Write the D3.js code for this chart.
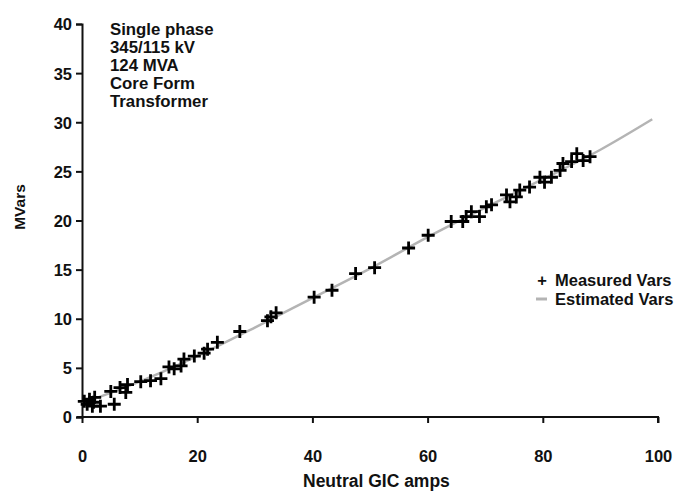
<!DOCTYPE html>
<html>
<head>
    <title>MVars vs Neutral GIC</title>
    <script src="https://d3js.org/d3.v7.min.js"></script>
    <style>
        body {
            margin: 0;
            background: #fff;
        }
        svg text {
            font-family: "Liberation Sans", Arial, sans-serif;
            font-weight: bold;
            fill: #111;
        }
        .axis path,
        .axis line {
            fill: none;
            stroke: #111;
            stroke-width: 2px;
        }
        .axis text {
            font-size: 16.5px;
        }
        .marker {
            fill: none;
            stroke: #000;
            stroke-width: 2.8px;
        }
    </style>
</head>
<body>
<div id="chart"></div>
<script>
// measured points: neutral GIC amps vs MVars
const measuredAmps = [0.4, 0.9, 1.3, 1.8, 2.2, 2.0, 3.2, 5.0, 5.6, 6.6, 7.6, 7.9,
    10.2, 11.9, 13.7, 15.1, 16.0, 17.2, 17.7, 19.5, 21.2, 21.8, 23.5, 27.4,
    32.2, 32.8, 33.7, 40.3, 43.4, 47.5, 50.8, 56.7, 60.1,
    64.1, 66.1, 66.7, 67.6, 69.0, 70.2, 71.1, 73.7, 74.3, 75.4, 76.0, 77.7,
    79.5, 80.3, 81.5, 83.0, 83.5, 85.0, 85.9, 87.0, 88.2];
const measuredVars = [1.6, 1.3, 1.8, 1.1, 2.0, 1.5, 1.1, 2.6, 1.3, 3.0, 2.5, 3.3,
    3.6, 3.7, 3.9, 5.1, 4.9, 5.2, 5.9, 6.2, 6.5, 6.9, 7.6, 8.7,
    9.8, 10.2, 10.6, 12.2, 12.9, 14.6, 15.2, 17.2, 18.5,
    19.9, 19.9, 20.4, 20.9, 20.4, 21.4, 21.6, 22.6, 21.9, 22.4, 23.1, 23.4,
    24.4, 23.9, 24.4, 25.1, 25.8, 26.0, 26.8, 26.1, 26.5];

// estimated curve
const estimatedAmps = [0, 10, 20, 30, 40, 50, 60, 70, 80, 90, 99];
const estimatedVars = [1.4, 3.6, 6.2, 9.1, 12.1, 15.1, 18.3, 21.3, 24.2, 27.2, 30.3];

const xTicks = [0, 20, 40, 60, 80, 100];
const yTicks = [0, 5, 10, 15, 20, 25, 30, 35, 40];
const noteLines = ['Single phase', '345/115 kV', '124 MVA', 'Core Form', 'Transformer'];

const width = 679;
const height = 492;

const svg = d3.select('#chart').append('svg')
    .attr('width', width)
    .attr('height', height);

const xScale = d3.scaleLinear().domain([0, 100]).range([82, 658]);
const yScale = d3.scaleLinear().domain([0, 40]).range([417, 24]);

// axes
const xAxisG = svg.append('g')
    .attr('class', 'axis')
    .attr('transform', `translate(0,${yScale(0)})`)
    .call(d3.axisBottom(xScale).tickValues(xTicks).tickSize(6).tickPadding(27));
xAxisG.select('.domain').attr('d', `M${xScale(0) - 5},0H${xScale(100)}V6`);

const yAxisG = svg.append('g')
    .attr('class', 'axis')
    .attr('transform', `translate(${xScale(0)},0)`)
    .call(d3.axisLeft(yScale).tickValues(yTicks).tickSize(6).tickPadding(4));
yAxisG.selectAll('text').attr('dy', '0.36em');

svg.append('text')
    .attr('x', 303)
    .attr('y', 487)
    .style('font-size', '17.5px')
    .text('Neutral GIC amps');

svg.append('text')
    .attr('transform', 'rotate(-90)')
    .attr('x', -207)
    .attr('y', 25)
    .attr('text-anchor', 'middle')
    .style('font-size', '15.5px')
    .text('MVars');

// estimated line
const line = d3.line()
    .x(d => xScale(d[0]))
    .y(d => yScale(d[1]))
    .curve(d3.curveMonotoneX);

svg.append('path')
    .datum(estimatedAmps.map((a, i) => [a, estimatedVars[i]]))
    .attr('d', line)
    .attr('fill', 'none')
    .attr('stroke', '#b4b4b4')
    .attr('stroke-width', 2.5);

// measured crosses
svg.selectAll('.marker')
    .data(measuredAmps.map((a, i) => [a, measuredVars[i]]))
    .enter().append('path')
    .attr('class', 'marker')
    .attr('transform', d => `translate(${xScale(d[0])},${yScale(d[1])})`)
    .attr('d', 'M-6.5,0H6.5M0,-6.5V6.5');

// note text
svg.append('g').selectAll('text')
    .data(noteLines)
    .enter().append('text')
    .attr('x', 110)
    .attr('y', (d, i) => 35 + i * 18.1)
    .style('font-size', '16.8px')
    .text(d => d);

// legend
const legend = svg.append('g');
legend.append('text')
    .attr('x', 542)
    .attr('y', 286)
    .attr('text-anchor', 'middle')
    .style('font-size', '16.5px')
    .text('+');
legend.append('text')
    .attr('x', 555)
    .attr('y', 286)
    .style('font-size', '16.5px')
    .text('Measured Vars');
legend.append('line')
    .attr('x1', 536).attr('x2', 547)
    .attr('y1', 299).attr('y2', 299)
    .attr('stroke', '#b4b4b4')
    .attr('stroke-width', 3);
legend.append('text')
    .attr('x', 555)
    .attr('y', 305)
    .style('font-size', '16.5px')
    .text('Estimated Vars');
</script>
</body>
</html>
